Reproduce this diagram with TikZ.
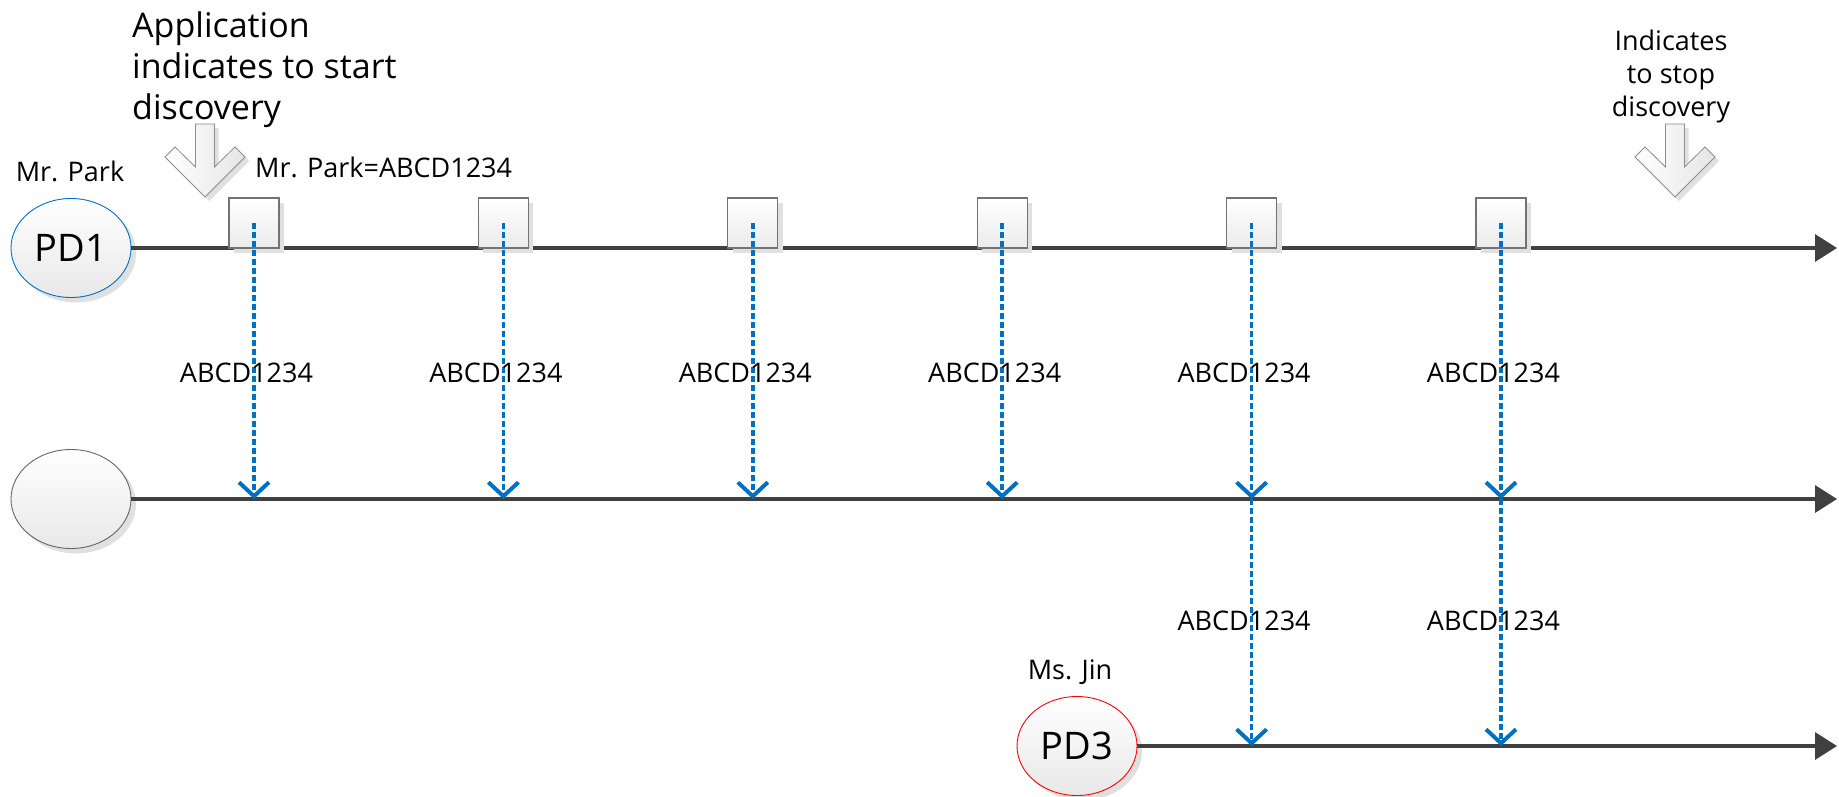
\documentclass[tikz,border=0pt]{standalone}
\usepackage{fontspec}
\setmainfont{Open Sans}
\usepackage{tikz}
\usetikzlibrary{arrows.meta,positioning,calc,shapes.geometric,shadows}
\definecolor{linegray}{HTML}{404040}
\definecolor{msblue}{HTML}{0070C0}
\tikzset{
  pd/.style={ellipse,draw=#1,line width=.9pt,top color=white,bottom color=black!9,minimum width=120pt,minimum height=99pt,inner sep=0pt,font=\fontsize{38}{42}\selectfont,drop shadow={shadow xshift=5pt,shadow yshift=-5pt,fill=black!12,opacity=1}},
  slot/.style={rectangle,draw=black!55,line width=1.1pt,top color=white,bottom color=black!8,minimum size=50pt,inner sep=0pt,drop shadow={shadow xshift=5pt,shadow yshift=-5pt,fill=black!12,opacity=1}},
  timeline/.style={line width=3.5pt,linegray,-{Triangle[length=22pt,width=27pt]}},
  beacon/.style={line width=3.5pt,msblue,dash pattern=on 5.5pt off 3.5pt,-{Straight Barb[length=14pt,width=30pt,line width=4pt]}},
  lbl/.style={font=\fontsize{27}{33}\selectfont,inner sep=0pt},
  bigtxt/.style={font=\fontsize{34}{41}\selectfont,inner sep=0pt},
  pics/bigdown/.style={code={
    \begin{scope}[shift={(4,4)}]
      \fill[black!12] (-9.5,-73) -- (-9.5,-30) -- (-30,-50) -- (-40,-40) -- (0,0) -- (40,-40) -- (30,-50) -- (9.5,-30) -- (9.5,-73) -- cycle;
    \end{scope}
    \draw[black!45,line width=.8pt,left color=white,right color=black!10] (-9.5,-73) -- (-9.5,-30) -- (-30,-50) -- (-40,-40) -- (0,0) -- (40,-40) -- (30,-50) -- (9.5,-30) -- (9.5,-73) -- cycle;
  }}
}

\begin{document}
\begin{tikzpicture}[x=1pt,y=-1pt]
  \useasboundingbox (0,0) rectangle (1839,797);
  % devices and their time lines
  \node[pd=msblue] (pdone) at (71,248) {PD1};
  \node[pd=black!60] (pdtwo) at (71,499) {};
  \node[pd=red] (pdthree) at (1077,746) {PD3};
  \coordinate (endone) at (1837,248);
  \coordinate (endtwo) at (1837,499);
  \coordinate (endthree) at (1837,746);
  \draw[timeline] (pdone.east) -- (endone);
  \draw[timeline] (pdtwo.east) -- (endtwo);
  \draw[timeline] (pdthree.east) -- (endthree);
  \node[lbl,anchor=base] (mrpark) at (70,182) {Mr. Park};
  \node[lbl,anchor=base] (msjin) at (1070,679) {Ms. Jin};
  \node[lbl,anchor=base west] (parkid) at (255,177) {Mr. Park=ABCD1234};
  % start / stop
  \pic at (205,197) {bigdown};
  \pic at (1675,197) {bigdown};
  \node[bigtxt,align=left,anchor=north west] (starttxt) at (132,11) {Application\\indicates to start\\discovery};
  \node[lbl,align=center,anchor=north] (stoptxt) at (1671,30) {Indicates\\to stop\\discovery};
  % discovery messages
  \foreach \i in {1,...,6} {
    \pgfmathsetmacro\xx{254+249.4*(\i-1)}
    \node[slot] (bx\i) at (\xx,223) {};
    \coordinate (hitb\i) at (\xx,499);
    \draw[beacon] (bx\i.center) -- (hitb\i);
    \node[lbl,anchor=base] (idb\i) at (\xx-7.5,382) {ABCD1234};
  }
  \foreach \i in {5,6} {
    \coordinate (hitc\i) at ($(hitb\i)+(0,247)$);
    \draw[beacon] (hitb\i) -- (hitc\i);
    \node[lbl,anchor=base] (idc\i) at ($(hitb\i)+(-7.5,131)$) {ABCD1234};
  }
\end{tikzpicture}
\end{document}
